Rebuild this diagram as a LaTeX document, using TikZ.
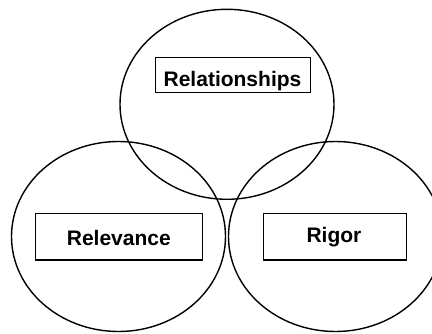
\documentclass[tikz,border=0pt]{standalone}
\usepackage{fontspec}
\setmainfont{Liberation Sans}
\usetikzlibrary{shapes.geometric}
\begin{document}
\begin{tikzpicture}[x=1pt,y=-1pt,
  ring/.style={draw=black,line width=1.4pt,ellipse,minimum width=214pt,minimum height=190pt,inner sep=0pt},
  frame/.style={draw=black,line width=1.2pt,rectangle,inner sep=0pt},
  caption/.style={inner sep=0pt,font=\fontsize{21}{24}\selectfont\bfseries}]
\useasboundingbox (0,0) rectangle (432,333);
\begin{scope}
\clip (0,0) rectangle (432,333);
% the three overlapping circles
\node[ring] (top) at (227,104.3) {};
\node[ring] (left) at (118.5,236.5) {};
\node[ring] (right) at (335.5,236.5) {};
% boxes and their captions
\node[frame,minimum width=155.7pt,minimum height=35pt] (relbox) at (233,74.8) {};
\node[caption] (rel) at (232.5,81) {Relationships};
\node[frame,minimum width=167pt,minimum height=46.7pt] (relevbox) at (118.8,236.7) {};
\node[caption] (relev) at (118.8,237.5) {Relevance};
\node[frame,minimum width=143.4pt,minimum height=46.7pt] (rigorbox) at (335,236.7) {};
\node[caption] (rigor) at (334,237.5) {Rigor};
\end{scope}
\end{tikzpicture}
\end{document}
